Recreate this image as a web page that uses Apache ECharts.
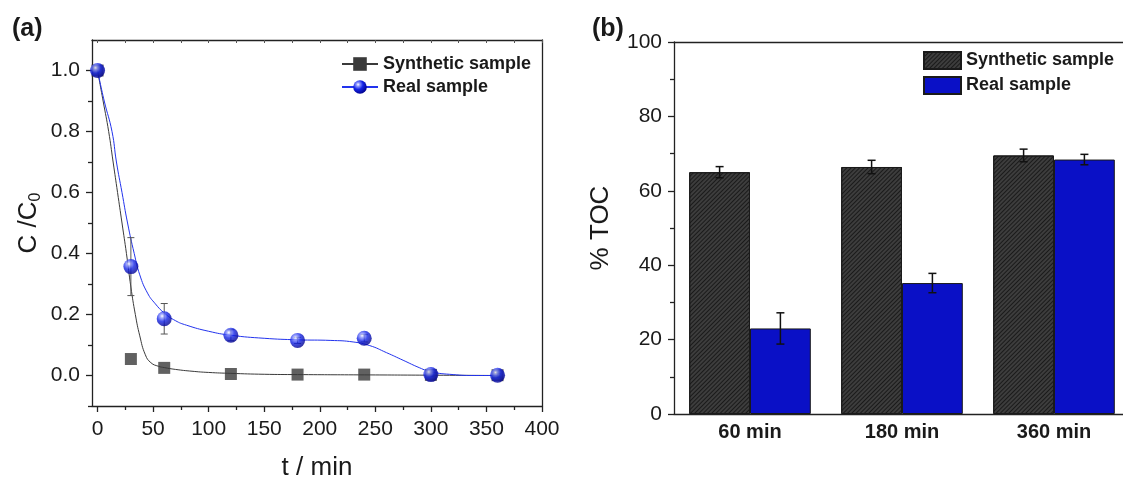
<!DOCTYPE html>
<html>
<head>
<meta charset="utf-8">
<script src="https://cdn.jsdelivr.net/npm/echarts@6/dist/echarts.min.js"></script>
<style>
html,body{margin:0;padding:0;background:#fff;}
#main{width:1123px;height:478px;}
</style>
</head>
<body>
<div id="main"></div>
<script>
// ---------- Panel (a) data ----------
const seriesNames = ['Synthetic sample', 'Real sample'];
const timePoints = [0, 30, 60, 120, 180, 240, 300, 360];
const synthC = [1.0, 0.054, 0.025, 0.005, 0.003, 0.003, 0.002, 0.001];
const synthErr = [0, 0, 0, 0, 0, 0, 0, 0];
const realC = [1.0, 0.357, 0.186, 0.132, 0.115, 0.122, 0.003, 0.001];
const realErr = [0, 0.095, 0.05, 0.018, 0.01, 0.012, 0.006, 0.006];
// fitted curves
const synthFitT = [0, 5, 10, 14, 18, 22, 26, 30, 34, 38, 43, 48, 55, 60, 70, 85, 100, 120, 150, 180, 240, 300, 360];
const synthFitC = [1.0, 0.90, 0.80, 0.70, 0.60, 0.50, 0.40, 0.29, 0.20, 0.13, 0.068, 0.042, 0.03, 0.026, 0.02, 0.014, 0.01, 0.007, 0.004, 0.003, 0.002, 0.001, 0.0];
const realFitT = [0, 6, 13, 17, 22, 27, 33, 38, 45, 52, 60, 70, 80, 100, 120, 150, 180, 210, 230, 245, 260, 275, 290, 300, 320, 340, 360];
const realFitC = [1.0, 0.90, 0.80, 0.70, 0.60, 0.50, 0.40, 0.33, 0.27, 0.235, 0.205, 0.18, 0.165, 0.145, 0.132, 0.122, 0.117, 0.115, 0.11, 0.098, 0.075, 0.05, 0.025, 0.012, 0.003, 0.0, 0.0];
const tMajorTicks = [0, 50, 100, 150, 200, 250, 300, 350, 400];
const tMinorTicks = [25, 75, 125, 175, 225, 275, 325, 375];
const tTopTicks = [0, 25, 50, 75, 100, 125, 150, 175, 200, 225, 250, 275, 300, 325, 350, 375, 400];
const cMajorTicks = [0, 0.2, 0.4, 0.6, 0.8, 1.0];
const cMinorTicks = [-0.1, 0.1, 0.3, 0.5, 0.7, 0.9];

// ---------- Panel (b) data ----------
const tocCategories = ['60 min', '180 min', '360 min'];
const tocPositions = [1, 2, 3];
const tocSynth = [65.0, 66.4, 69.5];
const tocSynthErr = [1.5, 1.8, 1.7];
const tocReal = [23.0, 35.2, 68.4];
const tocRealErr = [4.2, 2.6, 1.4];

const FONT = "'Liberation Sans', Arial, sans-serif";
const TXT = '#1a1a1a';
const BLUE = '#0a10c6';
const SPHERE = {
  type: 'radial', x: 0.36, y: 0.32, r: 0.72,
  colorStops: [
    { offset: 0, color: '#ffffff' },
    { offset: 0.18, color: '#8e98ff' },
    { offset: 0.5, color: '#1424e6' },
    { offset: 1, color: '#00008a' }
  ]
};

const chart = echarts.init(document.getElementById('main'), null, { renderer: 'canvas' });

function pairs(xs, ys) { return xs.map((x, i) => [x, ys[i]]); }
function errData(xs, ys, es) { return xs.map((x, i) => [x, ys[i] - es[i], ys[i] + es[i]]); }

function errRenderLeft(color, cap) {
  return function (params, api) {
    const lo = api.coord([api.value(0), api.value(1)]);
    const hi = api.coord([api.value(0), api.value(2)]);
    if (Math.abs(lo[1] - hi[1]) < 1) return null;
    const st = { stroke: color, lineWidth: 1 };
    return {
      type: 'group',
      children: [
        { type: 'line', shape: { x1: lo[0], y1: lo[1], x2: hi[0], y2: hi[1] }, style: st },
        { type: 'line', shape: { x1: lo[0] - cap, y1: lo[1], x2: lo[0] + cap, y2: lo[1] }, style: st },
        { type: 'line', shape: { x1: hi[0] - cap, y1: hi[1], x2: hi[0] + cap, y2: hi[1] }, style: st }
      ]
    };
  };
}
const BAR_FRACTION = 0.4; // each bar is 40% of one category unit
function errRenderBar(sign) {
  return function (params, api) {
    const unit = api.size([1, 0])[0];
    const off = sign * unit * BAR_FRACTION / 2;
    const lo = api.coord([api.value(0), api.value(1)]);
    const hi = api.coord([api.value(0), api.value(2)]);
    const x = lo[0] + off;
    const cap = 4;
    const st = { stroke: '#111', lineWidth: 1.5 };
    return {
      type: 'group',
      children: [
        { type: 'line', shape: { x1: x, y1: lo[1], x2: x, y2: hi[1] }, style: st },
        { type: 'line', shape: { x1: x - cap, y1: lo[1], x2: x + cap, y2: lo[1] }, style: st },
        { type: 'line', shape: { x1: x - cap, y1: hi[1], x2: x + cap, y2: hi[1] }, style: st }
      ]
    };
  };
}

const axisLineStyle = { color: '#222', width: 1.3 };
const RIGHT_GRID_W = 456;
const X_MIN_B = 0.5, X_MAX_B = 3.5;
const barPx = RIGHT_GRID_W / (X_MAX_B - X_MIN_B) * BAR_FRACTION;

const option = {
  animation: false,
  backgroundColor: '#fff',
  textStyle: { fontFamily: FONT },
  title: [
    { text: '(a)', left: 7, top: 12, textStyle: { fontFamily: FONT, fontSize: 25, fontWeight: 'bold', color: TXT } },
    { text: '(b)', left: 587, top: 12, textStyle: { fontFamily: FONT, fontSize: 25, fontWeight: 'bold', color: TXT } }
  ],
  legend: [
    {
      data: seriesNames,
      left: 341, top: 55, orient: 'vertical', padding: 0,
      itemWidth: 36, itemHeight: 17, itemGap: 5,
      textStyle: { fontFamily: FONT, fontSize: 18, fontWeight: 'bold', color: TXT }
    },
    {
      data: seriesNames.map(n => 'TOC: ' + n),
      formatter: n => n.replace('TOC: ', ''),
      left: 923, top: 51, orient: 'vertical', padding: 0,
      itemWidth: 37, itemHeight: 17, itemGap: 6, icon: 'rect',
      textStyle: { fontFamily: FONT, fontSize: 18, fontWeight: 'bold', color: TXT }
    }
  ],
  grid: [
    { left: 92, top: 40, width: 450, height: 366, containLabel: false, outerBoundsMode: 'none' },
    { left: 674, top: 42, width: RIGHT_GRID_W, height: 372, containLabel: false, outerBoundsMode: 'none' }
  ],
  xAxis: [
    { // 0: left bottom main
      type: 'value', gridIndex: 0, min: -5, max: 400, position: 'bottom',
      axisLine: { show: true, onZero: false, lineStyle: axisLineStyle },
      axisTick: { show: true, length: 6, customValues: tMajorTicks, lineStyle: axisLineStyle },
      axisLabel: { show: true, customValues: tMajorTicks, margin: 13, fontSize: 21, color: TXT, fontFamily: FONT },
      splitLine: { show: false },
      name: 't / min', nameLocation: 'middle', nameGap: 49,
      nameTextStyle: { fontFamily: FONT, fontSize: 26, color: TXT }
    },
    { // 1: left bottom minor ticks
      type: 'value', gridIndex: 0, min: -5, max: 400, position: 'bottom',
      axisLine: { show: false, onZero: false },
      axisTick: { show: true, length: 4, customValues: tMinorTicks, lineStyle: axisLineStyle },
      axisLabel: { show: false },
      splitLine: { show: false }
    },
    { // 2: left top frame
      type: 'value', gridIndex: 0, min: -5, max: 400, position: 'top',
      axisLine: { show: true, onZero: false, lineStyle: axisLineStyle },
      axisTick: { show: true, inside: true, length: 3, customValues: tTopTicks, lineStyle: { color: '#555', width: 1 } },
      axisLabel: { show: false },
      splitLine: { show: false }
    },
    { // 3: right categories (positions 1,2,3)
      type: 'value', gridIndex: 1, min: X_MIN_B, max: X_MAX_B, position: 'bottom',
      axisLine: { show: true, onZero: false, lineStyle: axisLineStyle },
      axisTick: { show: false },
      axisLabel: { customValues: tocPositions, margin: 8, fontSize: 20, fontWeight: 'bold', color: TXT, fontFamily: FONT,
        formatter: v => tocCategories[tocPositions.indexOf(Math.round(v))] || '' },
      splitLine: { show: false }
    },
    { // 4: right top frame
      type: 'value', gridIndex: 1, min: X_MIN_B, max: X_MAX_B, position: 'top',
      axisLine: { show: true, onZero: false, lineStyle: axisLineStyle },
      axisTick: { show: false }, axisLabel: { show: false }, splitLine: { show: false }
    }
  ],
  yAxis: [
    { // 0: left main
      type: 'value', gridIndex: 0, min: -0.1, max: 1.1, position: 'left',
      axisLine: { show: true, onZero: false, lineStyle: axisLineStyle },
      axisTick: { show: true, length: 6, customValues: cMajorTicks, lineStyle: axisLineStyle },
      axisLabel: { show: true, customValues: cMajorTicks, margin: 12, fontSize: 21, color: TXT, fontFamily: FONT,
        formatter: v => Number(v).toFixed(1) },
      splitLine: { show: false },
      name: 'C /C{sub|0}', nameLocation: 'middle', nameGap: 48, nameRotate: 90,
      nameTextStyle: { fontFamily: FONT, fontSize: 26, color: TXT, lineHeight: 30,
        rich: { sub: { fontFamily: FONT, fontSize: 16, color: TXT, lineHeight: 12, verticalAlign: 'bottom' } } }
    },
    { // 1: left minor ticks
      type: 'value', gridIndex: 0, min: -0.1, max: 1.1, position: 'left',
      axisLine: { show: false, onZero: false },
      axisTick: { show: true, length: 4, customValues: cMinorTicks, lineStyle: axisLineStyle },
      axisLabel: { show: false }, splitLine: { show: false }
    },
    { // 2: left right frame
      type: 'value', gridIndex: 0, min: -0.1, max: 1.1, position: 'right',
      axisLine: { show: true, onZero: false, lineStyle: axisLineStyle },
      axisTick: { show: false }, axisLabel: { show: false }, splitLine: { show: false }
    },
    { // 3: right panel
      type: 'value', gridIndex: 1, min: 0, max: 100, interval: 20, position: 'left',
      axisLine: { show: true, onZero: false, lineStyle: axisLineStyle },
      axisTick: { show: true, length: 6, lineStyle: axisLineStyle },
      minorTick: { show: true, splitNumber: 2, length: 4, lineStyle: axisLineStyle },
      axisLabel: { margin: 12, fontSize: 21, color: TXT, fontFamily: FONT },
      splitLine: { show: false },
      name: '% TOC', nameLocation: 'middle', nameGap: 60, nameRotate: 90,
      nameTextStyle: { fontFamily: FONT, fontSize: 26, color: TXT }
    }
  ],
  series: [
    // fitted curves (legend icons come from these)
    {
      name: seriesNames[0], type: 'line', xAxisIndex: 0, yAxisIndex: 0,
      data: pairs(synthFitT, synthFitC), smooth: 0.5, showSymbol: false,
      symbol: 'rect', symbolSize: 12,
      itemStyle: { color: '#3a3a3a' }, lineStyle: { color: '#3a3a3a', width: 1 },
      z: 2
    },
    {
      name: seriesNames[1], type: 'line', xAxisIndex: 0, yAxisIndex: 0,
      data: pairs(realFitT, realFitC), smooth: 0.5, showSymbol: false,
      symbol: 'circle', symbolSize: 15,
      itemStyle: { color: SPHERE }, lineStyle: { color: '#2233ee', width: 1 },
      z: 2
    },
    // error bars (a)
    {
      name: seriesNames[0], type: 'custom', xAxisIndex: 0, yAxisIndex: 0,
      renderItem: errRenderLeft('#555', 3.5), data: errData(timePoints, synthC, synthErr), z: 3
    },
    {
      name: seriesNames[1], type: 'custom', xAxisIndex: 0, yAxisIndex: 0,
      renderItem: errRenderLeft('#555', 3.5), data: errData(timePoints, realC, realErr), z: 3
    },
    // data points (a)
    {
      name: seriesNames[0], type: 'scatter', xAxisIndex: 0, yAxisIndex: 0,
      data: pairs(timePoints, synthC), symbol: 'rect', symbolSize: 12,
      itemStyle: { color: '#3a3a3a' }, z: 4
    },
    {
      name: seriesNames[1], type: 'scatter', xAxisIndex: 0, yAxisIndex: 0,
      data: pairs(timePoints, realC), symbol: 'circle', symbolSize: 15,
      itemStyle: { color: SPHERE }, z: 5
    },
    // bars (b)
    {
      name: 'TOC: ' + seriesNames[0], type: 'bar', xAxisIndex: 3, yAxisIndex: 3,
      data: pairs(tocPositions, tocSynth), barWidth: barPx, barGap: '0%',
      itemStyle: {
        color: '#3d3d3d', borderColor: '#1a1a1a', borderWidth: 1,
        decal: { symbol: 'rect', symbolSize: 1, color: 'rgba(20,20,20,0.85)', dashArrayX: [1, 0], dashArrayY: [1, 2], rotation: -Math.PI / 4 }
      }
    },
    {
      name: 'TOC: ' + seriesNames[1], type: 'bar', xAxisIndex: 3, yAxisIndex: 3,
      data: pairs(tocPositions, tocReal), barWidth: barPx, barGap: '0%',
      itemStyle: { color: BLUE, borderColor: '#1a1a1a', borderWidth: 1 }
    },
    // error bars (b)
    {
      type: 'custom', xAxisIndex: 3, yAxisIndex: 3, renderItem: errRenderBar(-1),
      data: errData(tocPositions, tocSynth, tocSynthErr), z: 5
    },
    {
      type: 'custom', xAxisIndex: 3, yAxisIndex: 3, renderItem: errRenderBar(1),
      data: errData(tocPositions, tocReal, tocRealErr), z: 5
    }
  ]
};

chart.setOption(option);
</script>
</body>
</html>
